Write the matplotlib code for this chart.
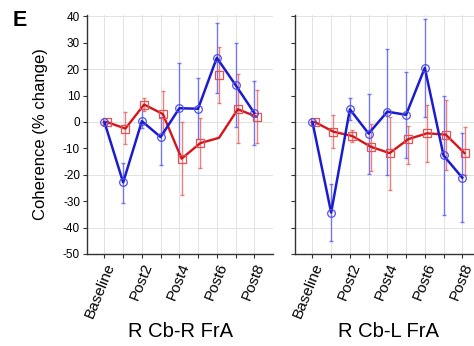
import matplotlib
matplotlib.use("Agg")
import matplotlib.pyplot as plt
import numpy as np

plt.rcParams['font.family'] = ['Liberation Sans', 'DejaVu Sans']

# session labels (ticks shown only every other one)
sessions = ["Baseline", "Post1", "Post2", "Post3", "Post4", "Post5", "Post6", "Post7", "Post8"]

# R Cb-R FrA
blue_r = [0, -22.9, 0.3, -5.7, 5.2, 5.0, 24.3, 14.0, 3.4]
blue_r_hi = [0, -15.5, 4.8, 1.7, 22.4, 16.7, 37.3, 30.0, 15.5]
blue_r_lo = [0, -30.5, -2.3, -16.4, -12.0, -6.5, 11.0, -2.0, -8.8]
red_r_line = [0, -2.5, 6.6, 3.0, -13.9, -8.0, -6.0, 4.8, 2.0]
red_r_mark = [0, -2.5, 6.6, 3.0, -13.9, -8.0, 17.7, 4.8, 2.0]
red_r_hi = [0, 3.6, 9.0, 11.8, 0.0, 1.4, 28.4, 18.3, 12.2]
red_r_lo = [0, -8.5, 4.2, -4.0, -27.6, -17.4, 7.0, -8.0, -7.9]

# R Cb-L FrA
blue_l = [0, -34.3, 4.8, -4.4, 3.9, 2.7, 20.5, -12.7, -21.1]
blue_l_hi = [0, -23.6, 8.9, 10.4, 27.8, 18.8, 39.0, 9.9, -4.1]
blue_l_lo = [0, -44.9, 0.6, -19.6, -20.0, -13.7, 1.9, -35.3, -38.0]
red_l_line = [0, -3.7, -5.3, -9.4, -11.8, -6.5, -4.3, -4.8, -11.8]
red_l_mark = red_l_line
red_l_hi = [0, 2.7, -2.9, -0.8, 1.9, -1.4, 6.5, 8.3, -1.8]
red_l_lo = [0, -9.9, -7.6, -18.4, -25.8, -15.8, -15.0, -18.3, -20.0]

titles = ["R Cb-R FrA", "R Cb-L FrA"]

BLUE = "#1c1ccf"
RED = "#d4161b"


def draw_panel(ax, blue, b_hi, b_lo, red_line, red_mark, r_hi, r_lo, title, show_labels):
    x = np.arange(len(sessions))
    xr = x + 0.12

    for yv in range(-40, 41, 20):
        ax.axhline(yv, color="#e2e2e2", lw=0.7, zorder=0)
    for xv in x:
        ax.axvline(xv, color="#e2e2e2", lw=0.7, zorder=0)

    # error bars
    b = np.asarray(blue)
    ax.errorbar(x, b, yerr=[b - np.asarray(b_lo), np.asarray(b_hi) - b], fmt='none',
                ecolor="#5a5af0", elinewidth=1.0, capsize=1.2, alpha=0.8, zorder=2)
    rm = np.asarray(red_mark)
    ax.errorbar(xr, rm, yerr=[rm - np.asarray(r_lo), np.asarray(r_hi) - rm], fmt='none',
                ecolor="#e86060", elinewidth=1.0, capsize=1.2, alpha=0.8, zorder=2)

    ax.plot(xr, red_line, color=RED, lw=1.7, zorder=3)
    ax.plot(xr, red_mark, ls='none', marker='s', ms=5.5, mfc='none', mec="#e85050",
            mew=0.9, zorder=4)
    ax.plot(x, blue, color=BLUE, lw=1.8, zorder=5)
    ax.plot(x, blue, ls='none', marker='o', ms=5.5, mfc='none', mec="#5050e8",
            mew=0.9, zorder=6)

    ax.set_xlim(-0.93, 9.0)
    ax.set_ylim(-50, 40.5)
    ax.set_xticks(x)
    ax.set_xticklabels([s if i % 2 == 0 else "" for i, s in enumerate(sessions)],
                       rotation=68, ha='right', rotation_mode='anchor', fontsize=11)
    ax.set_yticks(np.arange(-50, 41, 10))
    if show_labels:
        ax.set_yticklabels([str(v) for v in range(-50, 41, 10)], fontsize=8.5)
    else:
        ax.set_yticklabels([])
    ax.tick_params(direction='out', length=3, width=0.8, colors="#333333", pad=2)
    ax.tick_params(axis='x', labelcolor='black')
    ax.tick_params(axis='y', labelcolor='black')
    for side in ["top", "right"]:
        ax.spines[side].set_visible(False)
    for side in ["left", "bottom"]:
        ax.spines[side].set_color("#333333")
        ax.spines[side].set_linewidth(1.0)
    ax.set_xlabel(title, fontsize=14.5, labelpad=1)


fig = plt.figure(figsize=(4.74, 3.46), dpi=100)
ax1 = fig.add_axes([87 / 474, 1 - 254 / 346, 186 / 474, 239 / 346])
ax2 = fig.add_axes([295 / 474, 1 - 254 / 346, 186 / 474, 239 / 346])

draw_panel(ax1, blue_r, blue_r_hi, blue_r_lo, red_r_line, red_r_mark, red_r_hi, red_r_lo,
           titles[0], True)
draw_panel(ax2, blue_l, blue_l_hi, blue_l_lo, red_l_line, red_l_mark, red_l_hi, red_l_lo,
           titles[1], False)

ax1.set_ylabel("Coherence (% change)", fontsize=12, labelpad=11)
fig.text(0.026, 0.972, "E", fontsize=15.5, fontweight='bold', va='top', ha='left')

fig.savefig("out.png", dpi=100)
